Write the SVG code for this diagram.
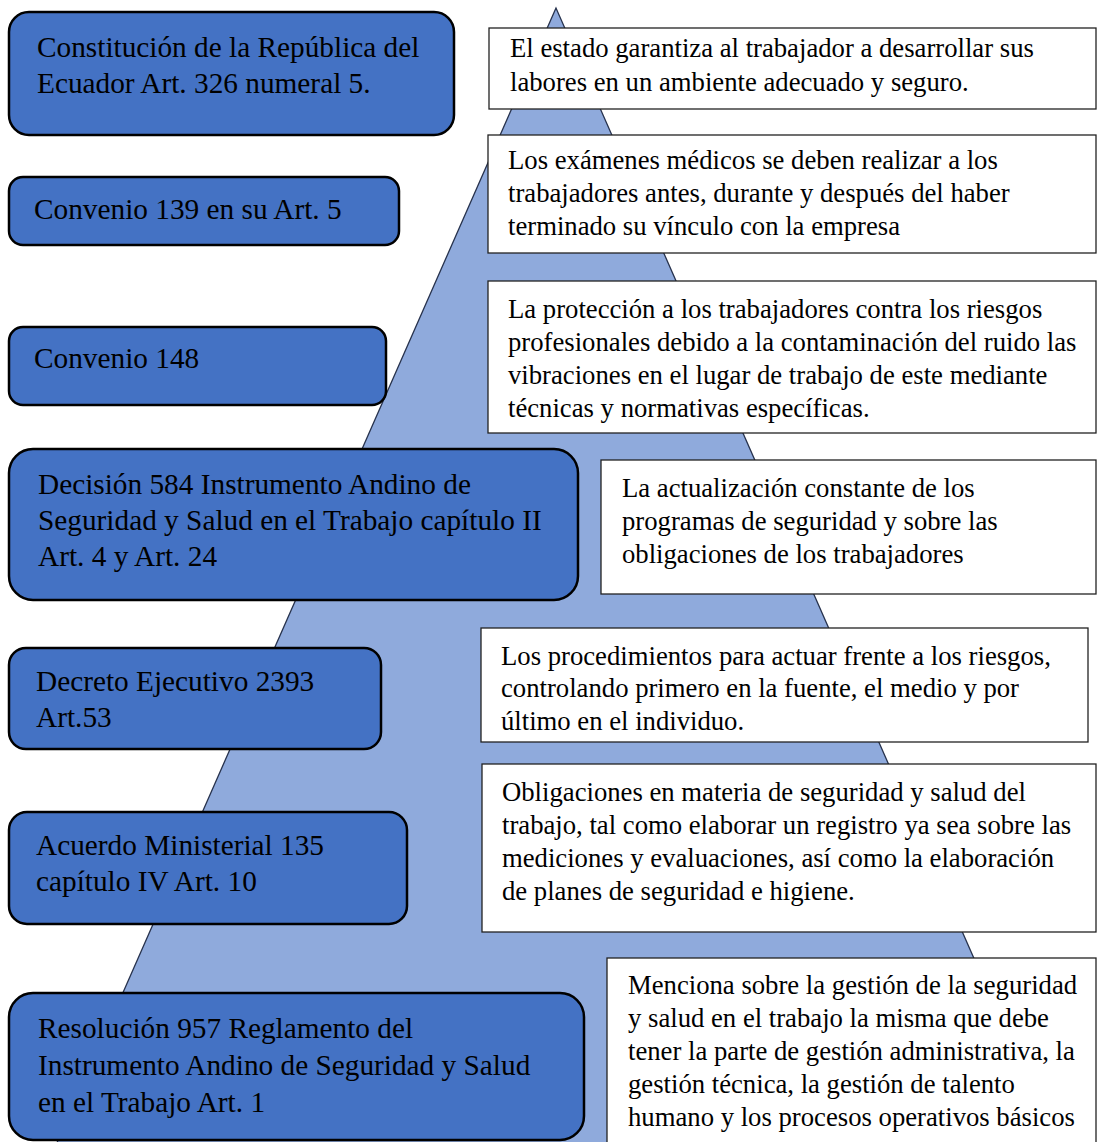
<svg xmlns="http://www.w3.org/2000/svg" width="1097" height="1142" viewBox="0 0 1097 1142">
  <style>
    .law rect { fill: #4472C4; stroke: #000; stroke-width: 2.5; }
    .law text { font-family: "Liberation Serif", "Times New Roman", serif; font-size: 29.3px; fill: #000; }
    .note rect { fill: #fff; stroke: #222; stroke-width: 1.3; }
    .note text { font-family: "Liberation Serif", "Times New Roman", serif; font-size: 26.7px; fill: #000; }
    .pyramid { fill: #8FAADC; stroke: #27324d; stroke-width: 1.3; }
  </style>

  <!-- background pyramid -->
  <polygon class="pyramid" points="556,8 52,1154 1060,1154"/>

  <!-- legal instruments (left column) -->
  <g id="constitucion" class="law">
    <rect x="9" y="12" width="445" height="123" rx="20"/>
    <text x="37" y="57">Constitución de la República del</text>
    <text x="37" y="93">Ecuador Art. 326 numeral 5.</text>
  </g>
  <g id="convenio139" class="law">
    <rect x="9" y="177" width="390" height="68" rx="14"/>
    <text x="34" y="219">Convenio 139 en su Art. 5</text>
  </g>
  <g id="convenio148" class="law">
    <rect x="9" y="327" width="377" height="78" rx="14"/>
    <text x="34" y="368">Convenio 148</text>
  </g>
  <g id="decision584" class="law">
    <rect x="9" y="449" width="569" height="151" rx="24"/>
    <text x="38" y="494">Decisión 584 Instrumento Andino de</text>
    <text x="38" y="530">Seguridad y Salud en el Trabajo capítulo II</text>
    <text x="38" y="566">Art. 4 y Art. 24</text>
  </g>
  <g id="decreto2393" class="law">
    <rect x="9" y="648" width="372" height="101" rx="17"/>
    <text x="36" y="691">Decreto Ejecutivo 2393</text>
    <text x="36" y="727">Art.53</text>
  </g>
  <g id="acuerdo135" class="law">
    <rect x="9" y="812" width="398" height="112" rx="18"/>
    <text x="36" y="855">Acuerdo Ministerial 135</text>
    <text x="36" y="891">capítulo IV Art. 10</text>
  </g>
  <g id="resolucion957" class="law">
    <rect x="9" y="993" width="575" height="147" rx="24"/>
    <text x="38" y="1038">Resolución 957 Reglamento del</text>
    <text x="38" y="1075">Instrumento Andino de Seguridad y Salud</text>
    <text x="38" y="1112">en el Trabajo Art. 1</text>
  </g>

  <!-- descriptions (right column) -->
  <g id="desc-constitucion" class="note">
    <rect x="489" y="28" width="607" height="81"/>
    <text x="510" y="57">El estado garantiza al trabajador a desarrollar sus</text>
    <text x="510" y="91">labores en un ambiente adecuado y seguro.</text>
  </g>
  <g id="desc-convenio139" class="note">
    <rect x="488" y="135" width="608" height="118"/>
    <text x="508" y="169">Los exámenes médicos se deben realizar a los</text>
    <text x="508" y="202">trabajadores antes, durante y después del haber</text>
    <text x="508" y="235">terminado su vínculo con la empresa</text>
  </g>
  <g id="desc-convenio148" class="note">
    <rect x="488" y="281" width="608" height="152"/>
    <text x="508" y="318">La protección a los trabajadores contra los riesgos</text>
    <text x="508" y="351">profesionales debido a la contaminación del ruido las</text>
    <text x="508" y="384">vibraciones en el lugar de trabajo de este mediante</text>
    <text x="508" y="417">técnicas y normativas específicas.</text>
  </g>
  <g id="desc-decision584" class="note">
    <rect x="601" y="460" width="495" height="134"/>
    <text x="622" y="497">La actualización constante de los</text>
    <text x="622" y="530">programas de seguridad y sobre las</text>
    <text x="622" y="563">obligaciones de los trabajadores</text>
  </g>
  <g id="desc-decreto2393" class="note">
    <rect x="481" y="628" width="607" height="114"/>
    <text x="501" y="665">Los procedimientos para actuar frente a los riesgos,</text>
    <text x="501" y="697">controlando primero en la fuente, el medio y por</text>
    <text x="501" y="730">último en el individuo.</text>
  </g>
  <g id="desc-acuerdo135" class="note">
    <rect x="482" y="764" width="614" height="168"/>
    <text x="502" y="801">Obligaciones en materia de seguridad y salud del</text>
    <text x="502" y="834">trabajo, tal como elaborar un registro ya sea sobre las</text>
    <text x="502" y="867">mediciones y evaluaciones, así como la elaboración</text>
    <text x="502" y="900">de planes de seguridad e higiene.</text>
  </g>
  <g id="desc-resolucion957" class="note">
    <rect x="607" y="958" width="489" height="200"/>
    <text x="628" y="994">Menciona sobre la gestión de la seguridad</text>
    <text x="628" y="1027">y salud en el trabajo la misma que debe</text>
    <text x="628" y="1060">tener la parte de gestión administrativa, la</text>
    <text x="628" y="1093">gestión técnica, la gestión de talento</text>
    <text x="628" y="1126">humano y los procesos operativos básicos</text>
  </g>

  <!-- no connectors: boxes are placed against the pyramid -->
  <g id="connectors"/>
</svg>
